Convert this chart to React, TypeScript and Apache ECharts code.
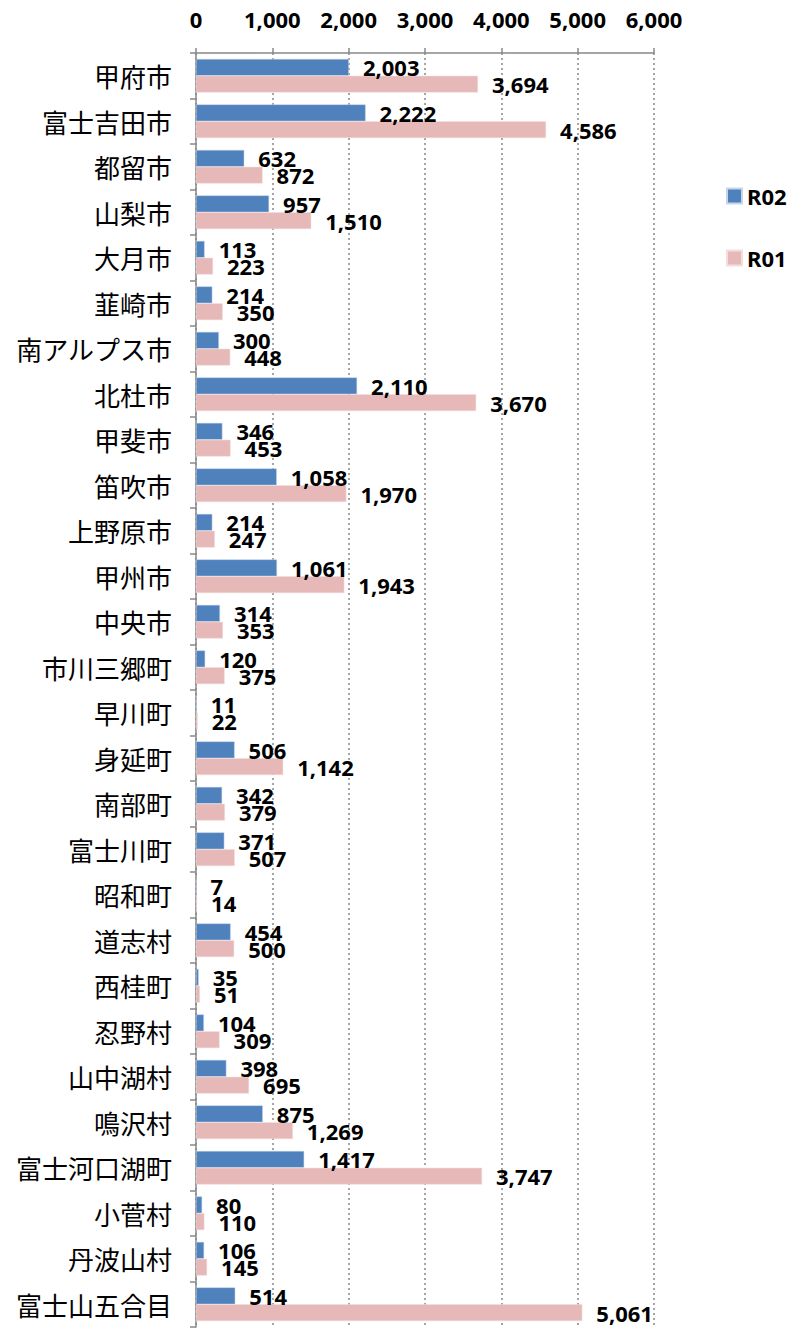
import React, { useEffect, useRef } from "react";
import * as echarts from "echarts";

const categories = ["甲府市","富士吉田市","都留市","山梨市","大月市","韮崎市","南アルプス市","北杜市","甲斐市","笛吹市","上野原市","甲州市","中央市","市川三郷町","早川町","身延町","南部町","富士川町","昭和町","道志村","西桂町","忍野村","山中湖村","鳴沢村","富士河口湖町","小菅村","丹波山村","富士山五合目"];
const r02 = [2003,2222,632,957,113,214,300,2110,346,1058,214,1061,314,120,11,506,342,371,7,454,35,104,398,875,1417,80,106,514];
const r01 = [3694,4586,872,1510,223,350,448,3670,453,1970,247,1943,353,375,22,1142,379,507,14,500,51,309,695,1269,3747,110,145,5061];
const xTicks = { min: 0, max: 6000, interval: 1000 };

export default function App() {
  const ref = useRef<HTMLDivElement>(null);
  useEffect(() => {
    document.body.style.margin = "0";
    const chart = echarts.init(ref.current!, undefined, { renderer: "svg" });
    const numFont = "'Noto Sans', sans-serif";
    const label = {
      show: true,
      position: "right" as const,
      distance: 14,
      color: "#000",
      fontWeight: "bold" as const,
      fontSize: 22,
      fontFamily: numFont,
      formatter: (p: any) => Number(p.value).toLocaleString("en-US"),
    };
    chart.setOption({
      animation: false,
      grid: { left: 196, right: 133, top: 53, bottom: 2, containLabel: false },
      legend: {
        orient: "vertical",
        left: 721,
        top: 180,
        itemWidth: 15,
        itemHeight: 15,
        itemGap: 40,
        icon: "rect",
        textStyle: { fontSize: 22, fontWeight: "bold", color: "#000", fontFamily: numFont, padding: [0, 0, 0, 0] },
        data: ["R02", "R01"],
      },
      xAxis: {
        type: "value",
        position: "top",
        min: xTicks.min,
        max: xTicks.max,
        interval: xTicks.interval,
        axisLine: { show: true, lineStyle: { color: "#888", width: 1.5 } },
        axisTick: { show: true, inside: false, length: 5, lineStyle: { color: "#888", width: 1.5 } },
        splitLine: { show: true, lineStyle: { color: "#888", type: [2, 3], width: 1.5 } },
        axisLabel: {
          margin: 23,
          color: "#000",
          fontSize: 22,
          fontWeight: "bold",
          fontFamily: numFont,
          formatter: (v: number) => v.toLocaleString("en-US"),
        },
      },
      yAxis: {
        type: "category",
        inverse: true,
        data: categories,
        axisLine: { show: true, lineStyle: { color: "#888", width: 1.5 } },
        axisTick: { show: true, inside: false, length: 6, alignWithLabel: false, lineStyle: { color: "#888", width: 1.5 } },
        axisLabel: {
          margin: 24,
          color: "#000",
          fontSize: 26,
          fontFamily: "'Noto Sans CJK JP', sans-serif",
        },
        splitLine: { show: false },
      },
      series: [
        {
          name: "R02",
          type: "bar",
          data: r02,
          barGap: "0%",
          barCategoryGap: "26%",
          itemStyle: { color: "#4F81BD", borderColor: "#c6d5ea", borderWidth: 0.5 },
          label,
        },
        {
          name: "R01",
          type: "bar",
          data: r01,
          barGap: "0%",
          barCategoryGap: "26%",
          itemStyle: { color: "#E6B9B8", borderColor: "#f3dede", borderWidth: 0.5 },
          label,
        },
      ],
    });
    return () => chart.dispose();
  }, []);
  return <div ref={ref} style={{ width: 787, height: 1329 }} />;
}
